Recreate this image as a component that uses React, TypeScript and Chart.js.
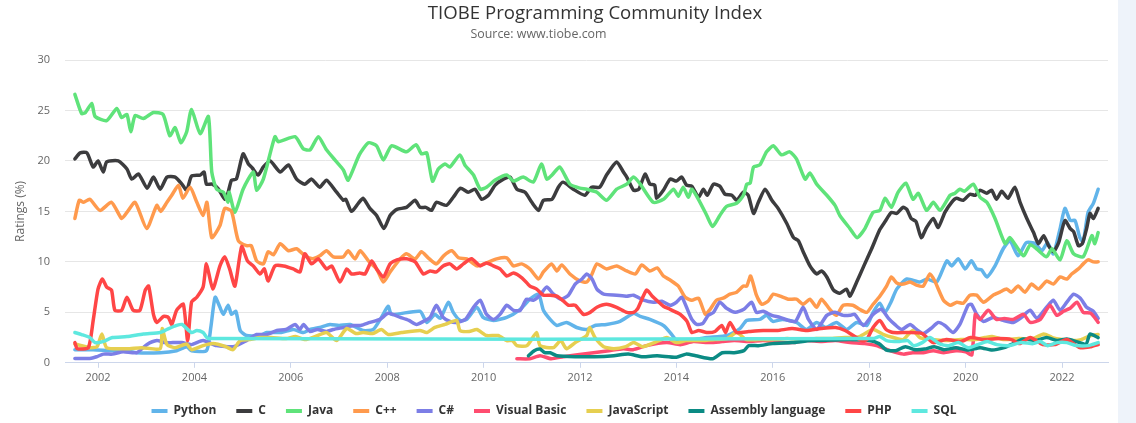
import React, { useEffect, useRef } from 'react';
import { Chart, registerables } from 'chart.js';

Chart.register(...registerables);

type Pt = [number, number];

const titleText = 'TIOBE Programming Community Index';
const subtitleText = 'Source: www.tiobe.com';
const axisTitle = 'Ratings (%)';
const seriesNames = ['Python', 'C', 'Java', 'C++', 'C#', 'Visual Basic', 'JavaScript', 'Assembly language', 'PHP', 'SQL'];
const seriesColors = ['#61b4ea', '#3c3c3e', '#5fe37a', '#ff9a4d', '#7c7ee6', '#ff4d70', '#e6cf50', '#0b8b84', '#ff4646', '#5ee8df'];
const yearTicks = [2002, 2004, 2006, 2008, 2010, 2012, 2014, 2016, 2018, 2020, 2022];

const python: Pt[] = [[2001.52,1.3],[2001.9,1.3],[2002.3,1.2],[2002.6,1.2],[2002.8,1.0],[2003.29,1.0],[2003.63,1.2],[2003.84,1.6],[2003.94,1.2],[2004.25,1.2],[2004.34,3.5],[2004.43,6.5],[2004.53,5.5],[2004.6,4.8],[2004.7,5.7],[2004.77,4.8],[2004.86,5.1],[2004.95,3.2],[2005.08,2.7],[2005.36,2.7],[2005.5,3.0],[2005.8,3.0],[2006.05,3.3],[2006.26,3.0],[2006.4,3.3],[2006.6,3.5],[2006.81,3.8],[2007.0,3.7],[2007.23,3.8],[2007.5,3.2],[2007.71,3.3],[2007.88,4.5],[2008.02,5.6],[2008.09,4.8],[2008.68,5.1],[2008.82,4.0],[2008.99,4.8],[2009.1,4.4],[2009.27,6.0],[2009.37,5.0],[2009.51,4.2],[2009.65,4.3],[2009.86,5.5],[2009.99,4.5],[2010.2,4.2],[2010.48,4.5],[2010.76,5.3],[2010.96,6.3],[2011.14,6.8],[2011.24,5.2],[2011.38,4.3],[2011.52,3.7],[2011.72,4.0],[2011.93,3.5],[2012.14,3.3],[2012.31,3.7],[2012.55,3.8],[2012.83,4.1],[2013.11,4.9],[2013.25,4.6],[2013.45,4.3],[2013.73,3.7],[2013.87,3.0],[2014.0,2.2],[2014.1,2.0],[2014.4,2.3],[2014.63,2.5],[2014.9,2.6],[2015.1,2.8],[2015.32,3.4],[2015.46,4.2],[2015.73,4.3],[2015.87,4.7],[2016.0,4.1],[2016.2,4.3],[2016.49,4.0],[2016.7,3.3],[2016.91,4.0],[2017.1,3.5],[2017.32,4.0],[2017.53,3.3],[2017.74,4.0],[2017.95,3.7],[2018.08,5.0],[2018.22,5.9],[2018.33,5.0],[2018.45,6.0],[2018.57,7.3],[2018.78,8.3],[2019.05,8.0],[2019.2,8.3],[2019.4,8.0],[2019.61,10.1],[2019.71,9.6],[2019.85,10.3],[2019.99,9.3],[2020.12,10.1],[2020.23,9.3],[2020.33,9.2],[2020.44,8.5],[2020.61,9.6],[2020.78,11.3],[2020.92,12.1],[2021.09,10.6],[2021.26,11.9],[2021.45,11.8],[2021.58,11.1],[2021.7,11.9],[2021.82,10.8],[2021.96,13.3],[2022.06,15.3],[2022.17,14.1],[2022.27,14.1],[2022.37,12.4],[2022.44,12.0],[2022.54,14.9],[2022.65,15.8],[2022.75,17.2]];

const cLang: Pt[] = [[2001.52,20.2],[2001.63,20.8],[2001.77,20.8],[2001.9,19.4],[2002.0,20.0],[2002.11,18.9],[2002.18,19.9],[2002.42,20.0],[2002.6,19.2],[2002.7,18.2],[2002.84,18.7],[2003.02,17.3],[2003.15,18.4],[2003.29,17.2],[2003.43,18.4],[2003.6,18.4],[2003.74,17.7],[2003.84,17.1],[2003.94,18.5],[2004.12,18.6],[2004.2,18.9],[2004.25,17.7],[2004.37,17.7],[2004.5,17.2],[2004.63,16.2],[2004.7,16.9],[2004.77,18.1],[2004.87,18.2],[2005.01,20.7],[2005.12,19.7],[2005.2,19.3],[2005.32,18.6],[2005.43,19.4],[2005.57,20.0],[2005.78,18.9],[2005.95,19.6],[2006.12,18.2],[2006.29,17.7],[2006.43,18.2],[2006.6,17.4],[2006.74,18.1],[2006.95,16.9],[2007.09,16.1],[2007.14,16.2],[2007.26,15.0],[2007.4,15.8],[2007.5,16.3],[2007.64,15.3],[2007.78,14.6],[2007.93,13.3],[2008.06,14.6],[2008.2,15.2],[2008.4,15.4],[2008.58,16.1],[2008.68,15.4],[2008.8,15.4],[2008.92,15.1],[2009.02,15.9],[2009.23,15.6],[2009.37,16.4],[2009.52,17.3],[2009.68,16.9],[2009.82,17.2],[2009.96,16.2],[2010.1,16.6],[2010.24,17.6],[2010.41,18.2],[2010.55,18.4],[2010.69,17.2],[2010.86,16.9],[2011.0,15.9],[2011.14,15.1],[2011.24,16.1],[2011.42,16.2],[2011.55,17.4],[2011.65,17.9],[2011.86,17.2],[2012.1,16.6],[2012.24,17.4],[2012.41,17.4],[2012.55,18.6],[2012.76,19.9],[2012.9,18.9],[2012.97,18.4],[2013.11,17.1],[2013.22,17.2],[2013.35,18.7],[2013.45,17.7],[2013.55,17.6],[2013.59,16.3],[2013.73,17.1],[2013.87,18.2],[2014.0,18.0],[2014.11,18.4],[2014.21,17.6],[2014.32,17.5],[2014.46,16.4],[2014.56,17.2],[2014.64,16.6],[2014.77,17.7],[2014.9,17.5],[2015.01,16.7],[2015.15,16.6],[2015.25,16.1],[2015.39,16.9],[2015.49,16.6],[2015.6,14.8],[2015.7,15.9],[2015.84,17.2],[2015.98,16.1],[2016.11,15.3],[2016.29,13.8],[2016.43,12.4],[2016.53,12.1],[2016.63,11.0],[2016.77,9.6],[2016.91,8.8],[2017.01,9.1],[2017.12,8.5],[2017.26,7.2],[2017.39,6.9],[2017.53,7.3],[2017.6,6.6],[2017.74,8.0],[2017.88,9.5],[2018.05,11.3],[2018.22,13.2],[2018.33,14.0],[2018.46,14.9],[2018.57,14.8],[2018.7,15.4],[2018.78,15.2],[2018.87,14.3],[2018.97,14.0],[2019.08,12.4],[2019.19,13.4],[2019.33,14.3],[2019.43,13.4],[2019.57,14.9],[2019.71,15.9],[2019.81,16.3],[2019.95,16.1],[2020.09,16.7],[2020.2,16.6],[2020.3,17.1],[2020.44,16.8],[2020.54,17.1],[2020.64,16.2],[2020.75,17.0],[2020.88,16.3],[2021.02,17.4],[2021.13,15.9],[2021.27,14.3],[2021.41,12.9],[2021.51,11.8],[2021.62,12.6],[2021.72,11.6],[2021.82,11.0],[2021.93,11.9],[2022.06,14.1],[2022.17,13.3],[2022.24,13.0],[2022.34,11.6],[2022.42,11.8],[2022.51,13.3],[2022.58,14.8],[2022.65,14.3],[2022.75,15.3]];

const java: Pt[] = [[2001.52,26.6],[2001.66,24.7],[2001.74,24.8],[2001.87,25.7],[2001.94,24.4],[2002.18,24.0],[2002.39,25.2],[2002.49,24.3],[2002.6,24.6],[2002.68,22.9],[2002.77,24.5],[2002.94,24.2],[2003.15,24.8],[2003.35,24.6],[2003.49,22.5],[2003.6,23.3],[2003.72,21.8],[2003.84,22.9],[2003.94,25.1],[2004.12,22.7],[2004.29,24.4],[2004.36,18.9],[2004.46,17.2],[2004.6,16.9],[2004.7,15.9],[2004.72,16.9],[2004.84,14.9],[2005.01,17.2],[2005.22,18.9],[2005.29,17.1],[2005.43,18.2],[2005.67,22.4],[2005.74,21.9],[2006.09,22.4],[2006.26,21.2],[2006.4,21.1],[2006.57,22.4],[2006.74,21.1],[2006.95,19.9],[2007.09,19.1],[2007.19,18.1],[2007.42,20.6],[2007.61,21.8],[2007.78,21.5],[2007.92,20.1],[2008.09,21.5],[2008.4,20.9],[2008.6,21.6],[2008.71,20.7],[2008.82,20.8],[2008.94,18.0],[2009.06,19.2],[2009.2,19.7],[2009.3,19.4],[2009.51,20.6],[2009.61,19.6],[2009.79,18.6],[2009.93,17.2],[2010.06,17.4],[2010.24,18.1],[2010.48,18.6],[2010.62,18.0],[2010.82,18.4],[2011.03,17.9],[2011.2,19.7],[2011.31,18.2],[2011.42,18.6],[2011.58,19.4],[2011.79,17.7],[2012.0,17.3],[2012.14,17.2],[2012.35,16.9],[2012.55,16.1],[2012.76,17.2],[2012.97,17.7],[2013.11,18.4],[2013.25,17.7],[2013.52,15.9],[2013.73,16.2],[2013.94,17.2],[2014.04,16.5],[2014.14,17.4],[2014.25,16.4],[2014.32,17.2],[2014.49,15.9],[2014.63,14.6],[2014.75,13.5],[2014.9,14.6],[2015.04,15.5],[2015.25,15.8],[2015.39,16.6],[2015.46,17.7],[2015.53,17.8],[2015.6,19.4],[2015.73,19.6],[2015.87,20.9],[2016.01,21.5],[2016.18,20.6],[2016.35,20.9],[2016.49,20.2],[2016.67,18.2],[2016.77,18.8],[2016.91,17.7],[2017.12,16.6],[2017.29,15.6],[2017.39,14.6],[2017.6,13.3],[2017.75,12.4],[2017.91,13.3],[2018.08,14.9],[2018.22,15.1],[2018.33,16.3],[2018.46,15.4],[2018.6,16.9],[2018.76,17.8],[2018.91,16.2],[2019.02,16.8],[2019.19,15.1],[2019.33,15.9],[2019.47,15.1],[2019.68,16.6],[2019.78,16.8],[2019.88,17.2],[2019.98,17.0],[2020.16,17.7],[2020.3,16.4],[2020.44,15.9],[2020.61,14.3],[2020.82,11.8],[2020.92,12.4],[2021.2,10.6],[2021.34,11.7],[2021.47,11.3],[2021.68,10.5],[2021.79,11.3],[2021.96,10.2],[2022.1,12.1],[2022.24,10.8],[2022.44,10.5],[2022.62,12.6],[2022.68,11.8],[2022.75,12.9]];

const cpp: Pt[] = [[2001.52,14.3],[2001.61,16.1],[2001.7,15.9],[2001.83,16.2],[2002.04,15.1],[2002.28,15.9],[2002.49,14.3],[2002.6,14.9],[2002.77,15.9],[2003.01,13.3],[2003.22,15.6],[2003.3,15.0],[2003.43,15.9],[2003.53,16.6],[2003.67,17.6],[2003.76,16.3],[2003.91,17.4],[2004.05,15.9],[2004.18,14.6],[2004.26,15.9],[2004.36,12.4],[2004.53,13.6],[2004.63,15.3],[2004.77,15.0],[2004.91,12.1],[2005.08,11.6],[2005.18,11.6],[2005.29,10.1],[2005.43,9.8],[2005.53,11.0],[2005.64,10.7],[2005.78,11.8],[2005.95,11.1],[2006.12,11.3],[2006.29,10.6],[2006.45,10.3],[2006.6,10.6],[2006.74,11.1],[2006.88,10.5],[2007.09,10.5],[2007.19,11.1],[2007.33,10.3],[2007.44,11.1],[2007.61,10.1],[2007.78,9.3],[2007.92,8.0],[2008.06,9.0],[2008.27,10.3],[2008.4,10.8],[2008.58,10.3],[2008.71,11.0],[2008.85,10.4],[2009.02,9.8],[2009.17,10.6],[2009.34,11.1],[2009.48,10.4],[2009.65,10.3],[2009.86,9.6],[2010.06,9.9],[2010.27,10.3],[2010.48,10.4],[2010.62,9.6],[2010.79,9.8],[2010.96,9.3],[2011.14,8.3],[2011.24,9.0],[2011.41,9.8],[2011.52,9.1],[2011.62,9.7],[2011.79,8.8],[2012.0,8.1],[2012.14,8.0],[2012.24,8.7],[2012.35,9.8],[2012.55,9.3],[2012.76,9.6],[2012.97,9.1],[2013.15,8.8],[2013.28,9.7],[2013.45,9.1],[2013.6,9.4],[2013.73,8.6],[2013.87,8.2],[2014.04,7.6],[2014.18,6.5],[2014.32,6.2],[2014.46,6.4],[2014.6,4.8],[2014.7,5.3],[2014.83,6.2],[2014.97,6.4],[2015.11,6.8],[2015.25,7.0],[2015.39,7.6],[2015.46,7.6],[2015.54,8.6],[2015.66,6.7],[2015.77,5.8],[2015.9,6.1],[2016.01,6.8],[2016.15,6.6],[2016.32,6.3],[2016.49,6.3],[2016.63,5.8],[2016.77,6.3],[2016.91,5.5],[2017.01,6.3],[2017.18,5.3],[2017.32,4.7],[2017.46,5.7],[2017.66,5.7],[2017.8,5.3],[2017.95,5.0],[2018.08,5.8],[2018.22,6.6],[2018.36,7.6],[2018.46,8.5],[2018.57,7.9],[2018.71,7.8],[2018.85,8.0],[2018.98,7.7],[2019.12,7.6],[2019.26,8.8],[2019.36,8.1],[2019.54,6.2],[2019.68,5.7],[2019.82,6.0],[2019.95,5.9],[2020.09,6.7],[2020.23,6.7],[2020.37,6.0],[2020.57,6.7],[2020.71,7.0],[2020.85,7.3],[2020.95,7.0],[2021.09,7.6],[2021.23,7.0],[2021.37,7.8],[2021.51,7.3],[2021.68,8.1],[2021.82,7.8],[2021.96,8.5],[2022.1,8.3],[2022.2,8.8],[2022.34,9.3],[2022.44,9.8],[2022.54,10.2],[2022.65,10.0],[2022.75,10.0]];

const csharp: Pt[] = [[2001.52,0.43],[2001.83,0.43],[2001.97,0.6],[2002.11,0.86],[2002.3,0.86],[2002.52,1.1],[2002.8,1.0],[2003.01,1.8],[2003.22,2.2],[2003.39,2.0],[2003.55,2.0],[2003.74,2.0],[2003.94,1.8],[2004.18,2.2],[2004.46,1.7],[2004.81,1.6],[2005.08,2.2],[2005.29,2.8],[2005.5,2.8],[2005.71,3.2],[2005.9,3.3],[2006.09,3.8],[2006.19,3.3],[2006.26,3.8],[2006.4,3.1],[2006.55,3.3],[2006.74,3.1],[2006.88,3.3],[2007.1,3.5],[2007.3,3.7],[2007.45,3.7],[2007.64,4.0],[2007.85,4.3],[2008.02,4.9],[2008.27,4.5],[2008.45,4.2],[2008.61,3.8],[2008.75,4.1],[2008.89,4.5],[2009.02,5.7],[2009.16,4.5],[2009.3,4.1],[2009.44,4.0],[2009.62,4.3],[2009.79,5.5],[2009.93,6.2],[2010.06,4.8],[2010.2,4.3],[2010.34,4.8],[2010.48,5.7],[2010.62,5.2],[2010.76,5.2],[2010.89,6.3],[2011.03,6.2],[2011.17,6.7],[2011.31,7.5],[2011.45,6.8],[2011.6,6.3],[2011.76,6.7],[2011.9,7.8],[2012.04,8.3],[2012.14,8.8],[2012.25,8.3],[2012.35,7.3],[2012.49,6.8],[2012.76,6.7],[2012.97,6.6],[2013.11,6.7],[2013.32,6.2],[2013.52,6.0],[2013.7,6.1],[2013.87,5.7],[2014.0,6.0],[2014.11,6.5],[2014.21,5.5],[2014.32,4.3],[2014.42,3.8],[2014.55,3.9],[2014.66,4.7],[2014.77,5.0],[2014.9,6.0],[2015.04,5.4],[2015.22,5.0],[2015.4,5.3],[2015.56,6.0],[2015.66,5.0],[2015.8,5.1],[2015.98,4.7],[2016.15,4.5],[2016.32,4.2],[2016.47,4.1],[2016.63,5.5],[2016.74,4.3],[2016.91,3.3],[2017.12,4.7],[2017.29,5.0],[2017.46,4.7],[2017.6,4.7],[2017.7,4.8],[2017.88,3.7],[2018.08,4.8],[2018.25,5.3],[2018.4,4.4],[2018.53,3.8],[2018.67,3.3],[2018.85,3.8],[2018.98,3.3],[2019.12,2.9],[2019.28,3.4],[2019.43,4.0],[2019.57,3.7],[2019.74,3.0],[2019.88,3.8],[2020.05,5.7],[2020.12,5.8],[2020.23,4.8],[2020.37,4.1],[2020.57,4.5],[2020.78,4.2],[2020.99,4.0],[2021.16,4.5],[2021.34,5.2],[2021.48,4.4],[2021.68,5.5],[2021.82,6.2],[2021.96,5.2],[2022.1,6.0],[2022.24,6.8],[2022.38,6.4],[2022.51,5.5],[2022.65,5.1],[2022.75,4.4]];

const visualBasic: Pt[] = [[2010.69,0.4],[2010.96,0.4],[2011.17,0.7],[2011.4,0.4],[2011.65,0.6],[2011.95,0.8],[2012.28,1.0],[2012.6,1.2],[2012.9,1.4],[2013.1,1.3],[2013.38,1.7],[2013.8,2.0],[2014.08,1.8],[2014.35,2.1],[2014.7,2.0],[2014.95,2.1],[2015.2,2.2],[2015.5,2.1],[2015.8,2.2],[2016.1,2.0],[2016.4,2.0],[2016.7,2.2],[2017.0,2.1],[2017.3,2.2],[2017.6,2.0],[2017.9,1.9],[2018.15,1.7],[2018.43,1.2],[2018.71,0.86],[2018.9,1.0],[2019.12,1.0],[2019.33,1.2],[2019.55,1.0],[2019.8,1.2],[2020.0,1.1],[2020.13,0.8],[2020.2,4.8],[2020.3,4.3],[2020.47,5.2],[2020.64,4.3],[2020.8,4.4],[2020.99,4.3],[2021.2,4.8],[2021.34,4.0],[2021.55,4.3],[2021.75,5.7],[2021.89,4.7],[2022.03,5.1],[2022.17,5.4],[2022.31,6.0],[2022.44,5.0],[2022.6,4.9],[2022.75,4.0]];

const javascript: Pt[] = [[2001.52,1.86],[2001.83,1.5],[2001.98,1.6],[2002.08,2.85],[2002.18,1.5],[2002.6,1.4],[2002.9,1.5],[2003.29,1.4],[2003.33,3.4],[2003.43,1.8],[2003.6,1.5],[2003.84,1.86],[2003.94,1.3],[2004.18,1.7],[2004.39,1.9],[2004.65,1.6],[2004.8,1.3],[2004.95,2.2],[2005.15,2.3],[2005.36,2.5],[2005.6,2.5],[2005.9,2.4],[2006.1,2.6],[2006.3,2.3],[2006.5,2.6],[2006.74,3.0],[2006.95,2.2],[2007.16,3.4],[2007.35,2.9],[2007.5,3.0],[2007.7,2.9],[2007.88,3.3],[2008.02,2.8],[2008.3,3.0],[2008.68,3.2],[2008.82,3.0],[2008.99,3.5],[2009.2,3.8],[2009.44,4.2],[2009.51,3.2],[2009.7,3.1],[2009.86,3.3],[2010.06,2.7],[2010.3,2.7],[2010.48,2.2],[2010.6,2.2],[2010.69,1.7],[2010.9,1.7],[2011.1,3.0],[2011.17,1.7],[2011.45,1.5],[2011.6,2.2],[2011.72,1.4],[2011.9,2.0],[2012.14,2.7],[2012.2,3.5],[2012.31,2.5],[2012.49,1.6],[2012.7,1.4],[2012.95,1.6],[2013.11,2.0],[2013.3,1.6],[2013.59,2.1],[2013.8,2.5],[2014.0,2.0],[2014.2,2.2],[2014.5,2.2],[2014.8,2.3],[2015.05,2.4],[2015.25,3.0],[2015.45,2.3],[2015.7,2.3],[2016.0,2.3],[2016.3,2.4],[2016.6,2.3],[2016.9,2.4],[2017.2,2.4],[2017.5,2.5],[2017.8,2.6],[2018.08,3.3],[2018.3,2.8],[2018.5,2.5],[2018.7,2.3],[2018.9,3.2],[2019.05,2.5],[2019.3,2.3],[2019.6,2.2],[2019.9,2.3],[2020.2,2.3],[2020.4,2.5],[2020.55,2.6],[2020.8,2.3],[2021.1,2.4],[2021.4,2.4],[2021.62,2.85],[2021.8,2.5],[2022.0,2.3],[2022.2,2.2],[2022.4,2.3],[2022.6,2.7],[2022.75,2.8]];

const assembly: Pt[] = [[2010.93,0.7],[2011.05,1.2],[2011.17,1.36],[2011.27,1.0],[2011.38,1.0],[2011.52,0.7],[2011.9,0.6],[2012.3,0.6],[2012.7,0.7],[2013.0,0.86],[2013.3,0.6],[2013.6,0.7],[2014.0,0.55],[2014.2,0.86],[2014.4,0.7],[2014.75,0.4],[2014.95,1.0],[2015.2,1.0],[2015.4,1.2],[2015.5,1.7],[2015.7,1.7],[2016.0,1.9],[2016.4,2.0],[2016.8,2.2],[2017.2,2.25],[2017.6,2.3],[2018.0,2.2],[2018.2,1.9],[2018.36,1.26],[2018.55,1.2],[2018.75,1.6],[2018.95,1.3],[2019.15,1.36],[2019.35,1.6],[2019.55,1.3],[2019.8,1.5],[2020.05,1.26],[2020.3,1.5],[2020.55,1.26],[2020.8,1.5],[2020.97,1.86],[2021.2,2.35],[2021.45,2.2],[2021.68,2.5],[2021.9,2.2],[2022.1,2.35],[2022.3,2.1],[2022.5,1.86],[2022.58,2.85],[2022.75,2.5]];

const php: Pt[] = [[2001.52,2.0],[2001.57,1.4],[2001.8,1.5],[2001.9,4.2],[2002.0,7.3],[2002.09,8.3],[2002.18,7.5],[2002.28,7.2],[2002.35,5.2],[2002.49,5.2],[2002.6,6.5],[2002.73,5.2],[2002.87,5.2],[2002.98,7.2],[2003.05,7.6],[2003.15,4.8],[2003.22,4.0],[2003.36,4.6],[2003.46,4.5],[2003.53,3.8],[2003.63,5.2],[2003.77,5.8],[2003.86,2.2],[2003.94,6.0],[2004.05,6.5],[2004.18,7.5],[2004.25,9.8],[2004.38,7.3],[2004.53,9.6],[2004.63,10.5],[2004.73,9.3],[2004.84,7.6],[2004.98,11.5],[2005.1,10.1],[2005.22,9.6],[2005.36,8.8],[2005.45,9.3],[2005.53,8.1],[2005.67,9.6],[2005.85,9.6],[2006.05,9.3],[2006.19,9.0],[2006.29,10.8],[2006.43,9.8],[2006.57,10.3],[2006.74,9.3],[2006.85,9.6],[2007.02,8.0],[2007.16,9.3],[2007.26,8.8],[2007.43,8.9],[2007.54,8.8],[2007.68,10.1],[2007.78,9.3],[2007.92,8.5],[2008.06,9.8],[2008.2,10.2],[2008.4,10.3],[2008.58,10.0],[2008.75,8.8],[2008.89,9.1],[2009.02,9.0],[2009.16,9.6],[2009.3,9.8],[2009.44,9.3],[2009.58,9.8],[2009.75,10.3],[2009.93,9.6],[2010.06,9.9],[2010.2,9.6],[2010.34,9.3],[2010.48,8.6],[2010.62,8.9],[2010.8,8.4],[2010.96,7.6],[2011.1,7.3],[2011.24,6.7],[2011.38,6.7],[2011.52,6.6],[2011.66,6.1],[2011.76,5.7],[2011.9,5.7],[2012.07,4.8],[2012.21,5.0],[2012.35,5.5],[2012.55,5.8],[2012.76,5.5],[2012.97,5.0],[2013.11,5.0],[2013.2,5.4],[2013.38,7.2],[2013.5,6.6],[2013.59,6.2],[2013.73,5.6],[2013.87,5.3],[2014.0,5.0],[2014.08,4.8],[2014.22,4.1],[2014.32,3.0],[2014.46,3.2],[2014.63,3.0],[2014.8,3.1],[2014.94,3.7],[2015.02,3.0],[2015.11,4.0],[2015.25,3.0],[2015.5,3.1],[2015.8,3.2],[2016.1,3.2],[2016.4,3.4],[2016.7,3.2],[2017.0,3.4],[2017.3,3.5],[2017.5,3.2],[2017.7,2.6],[2017.85,2.2],[2017.95,2.3],[2018.08,3.5],[2018.22,4.2],[2018.35,3.3],[2018.5,3.0],[2018.8,3.0],[2019.1,2.9],[2019.33,2.0],[2019.6,2.3],[2019.9,2.1],[2020.1,2.5],[2020.4,2.3],[2020.7,2.4],[2020.95,2.3],[2021.12,1.9],[2021.34,2.5],[2021.6,1.8],[2021.85,1.8],[2022.1,2.3],[2022.37,1.5],[2022.6,1.6],[2022.75,1.8]];

const sql: Pt[] = [[2001.52,3.0],[2001.66,2.8],[2001.83,2.5],[2001.94,2.0],[2002.1,2.1],[2002.3,2.5],[2002.6,2.6],[2002.94,2.85],[2003.29,3.0],[2003.43,3.3],[2003.63,3.7],[2003.74,3.8],[2003.94,3.0],[2004.05,3.2],[2004.18,3.0],[2004.29,2.4],[2018.08,2.4],[2018.22,2.6],[2018.36,2.2],[2018.6,2.1],[2018.8,2.2],[2018.92,1.7],[2019.1,2.0],[2019.26,2.5],[2019.45,1.9],[2019.65,1.7],[2019.85,2.0],[2020.05,1.5],[2020.25,1.8],[2020.45,2.1],[2020.65,1.8],[2020.9,1.7],[2021.15,2.0],[2021.4,1.9],[2021.55,2.1],[2021.7,1.7],[2021.9,2.0],[2022.1,2.0],[2022.3,1.7],[2022.55,1.7],[2022.75,2.0]];

const allSeries: Pt[][] = [python, cLang, java, cpp, csharp, visualBasic, javascript, assembly, php, sql];

const FONT = "'Open Sans', 'DejaVu Sans', sans-serif";

const headerPlugin = {
  id: 'headerText',
  afterDraw(chart: any) {
    const ctx = chart.ctx;
    ctx.save();
    ctx.textAlign = 'center';
    ctx.textBaseline = 'alphabetic';
    ctx.fillStyle = '#333333';
    ctx.font = `18.6px ${FONT}`;
    ctx.fillText(titleText, 595, 18.5);
    ctx.fillStyle = '#666666';
    ctx.font = `12.4px ${FONT}`;
    ctx.fillText(subtitleText, 538.5, 38);
    ctx.restore();
  },
};

export default function App() {
  const ref = useRef<HTMLCanvasElement>(null);

  useEffect(() => {
    if (!ref.current) return;
    Chart.defaults.font.family = FONT;
    const n = allSeries.length;
    const chart = new Chart(ref.current, {
      type: 'line',
      data: {
        datasets: allSeries.map((s, i) => ({
          label: seriesNames[i],
          data: s.map(([x, y]) => ({ x, y })),
          borderColor: seriesColors[i],
          backgroundColor: seriesColors[i],
          borderWidth: 3.5,
          pointRadius: 0,
          pointHoverRadius: 0,
          tension: 0.2,
          fill: false,
          order: n - i,
          borderJoinStyle: 'round' as const,
          borderCapStyle: 'round' as const,
        })),
      },
      plugins: [headerPlugin],
      options: {
        responsive: false,
        animation: false,
        devicePixelRatio: 1,
        events: [],
        layout: { padding: { left: 0, right: 10, top: 60, bottom: 0 } },
        scales: {
          x: {
            type: 'linear',
            min: 2001.315,
            max: 2022.954,
            afterBuildTicks: (scale: any) => {
              scale.ticks = yearTicks.map((v) => ({ value: v }));
            },
            afterFit: (scale: any) => {
              scale.height = scale.height - 2;
            },
            ticks: {
              callback: (v: any) => String(v),
              color: '#666666',
              font: { size: 11 },
              padding: 3,
              maxRotation: 0,
              autoSkip: false,
            },
            grid: { drawOnChartArea: false, drawTicks: true, tickLength: 5, color: '#ccd6eb', lineWidth: 1 },
            border: { color: '#ccd6eb', width: 1 },
          },
          y: {
            min: 0,
            max: 30,
            ticks: { stepSize: 5, color: '#666666', font: { size: 11 }, padding: 15 },
            grid: { color: '#e6e6e6', drawTicks: false },
            border: { display: false },
            title: {
              display: true,
              text: axisTitle,
              color: '#666666',
              font: { size: 12 },
              padding: { top: 13, bottom: 0 },
            },
            afterFit: (scale: any) => {
              scale.width = 65;
            },
          },
        },
        plugins: {
          title: { display: false },
          subtitle: { display: false },
          legend: {
            position: 'bottom',
            labels: {
              boxWidth: 16,
              boxHeight: 4,
              padding: 20,
              color: '#333333',
              font: { size: 12, weight: 'bold' },
              sort: (a: any, b: any) => a.datasetIndex - b.datasetIndex,
              generateLabels: (c: any) =>
                Chart.defaults.plugins.legend.labels
                  .generateLabels(c)
                  .map((l: any) => ({ ...l, lineWidth: 0, fillStyle: l.strokeStyle })),
            },
          },
          tooltip: { enabled: false },
        },
      } as any,
    });
    return () => chart.destroy();
  }, []);

  return (
    <div style={{ position: 'fixed', left: 0, top: 0, width: 1136, height: 427, background: '#ffffff', overflow: 'hidden' }}>
      <canvas ref={ref} width={1118} height={427} style={{ position: 'absolute', left: 0, top: 0, width: 1118, height: 427 }} />
      <div style={{ position: 'absolute', left: 1118, top: 0, width: 18, height: 427, background: '#eef3fa' }} />
    </div>
  );
}
